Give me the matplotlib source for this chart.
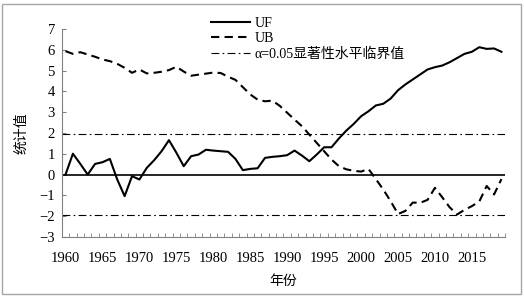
import numpy as np
import matplotlib.pyplot as plt
from matplotlib.patches import Rectangle

plt.rcParams['font.family'] = ['Liberation Serif', 'Noto Sans CJK SC']

years = np.arange(1960, 2020)

uf = [0.00, 1.00, 0.51, 0.00, 0.51, 0.59, 0.75, -0.24, -1.04, -0.08,
      -0.24, 0.32, 0.69, 1.12, 1.65, 1.05, 0.40, 0.88, 0.96, 1.19,
      1.15, 1.12, 1.09, 0.75, 0.21, 0.27, 0.30, 0.80, 0.85, 0.88,
      0.93, 1.15, 0.91, 0.64, 0.96, 1.31, 1.31, 1.73, 2.11, 2.43,
      2.80, 3.04, 3.32, 3.40, 3.65, 4.05, 4.33, 4.57, 4.81, 5.05,
      5.16, 5.24, 5.40, 5.60, 5.80, 5.90, 6.12, 6.04, 6.06, 5.90]

ub = [5.93, 5.80, 5.88, 5.77, 5.66, 5.53, 5.45, 5.32, 5.13, 4.89,
      5.05, 4.86, 4.89, 4.94, 5.02, 5.18, 4.95, 4.75, 4.80, 4.85,
      4.90, 4.88, 4.70, 4.55, 4.20, 3.85, 3.60, 3.52, 3.55, 3.30,
      2.97, 2.64, 2.32, 1.92, 1.52, 1.12, 0.72, 0.40, 0.25, 0.18,
      0.14, 0.27, -0.22, -0.72, -1.28, -1.90, -1.75, -1.35, -1.36, -1.22,
      -0.64, -1.10, -1.58, -1.92, -1.70, -1.52, -1.30, -0.55, -0.96, -0.22]

crit = 1.96
yticks = list(range(-3, 8))
xlabels = list(range(1960, 2020, 5))

fig = plt.figure(figsize=(5.24, 2.98), dpi=100)
ax = fig.add_axes([0.118, 0.205, 0.846, 0.698])

ax.plot(years, uf, color='black', lw=1.5, label='UF')
ax.plot(years, ub, color='black', lw=1.5, dashes=(4, 2.5), label='UB')
ax.plot([1959.5, 2019.5], [crit, crit], color='black', lw=0.8,
        dashes=(7, 3, 1.5, 3), label='α=0.05显著性水平临界值')
ax.plot([1959.5, 2019.5], [-crit, -crit], color='black', lw=0.8,
        dashes=(7, 3, 1.5, 3))
ax.axhline(0, color='black', lw=1.2)

ax.set_xlim(1959.5, 2019.5)
ax.set_ylim(-3, 7)
ax.set_yticks(yticks)
ax.set_xticks(xlabels)
ax.set_xticks(np.arange(1959.5, 2020, 1), minor=True)
ax.tick_params(axis='x', which='major', length=0, pad=11, labelsize=10.5)
ax.tick_params(axis='x', which='minor', direction='in', length=3,
               color='#808080')
ax.tick_params(axis='y', direction='in', length=3, color='#808080',
               labelsize=10.5, pad=5)

for side in ['top', 'right']:
    ax.spines[side].set_visible(False)
for side in ['left', 'bottom']:
    ax.spines[side].set_color('#808080')
    ax.spines[side].set_linewidth(0.8)

ax.set_xlabel('年份', fontsize=10, labelpad=7)
ax.set_ylabel('统计值', fontsize=10, labelpad=8)

ax.legend(loc='upper left', bbox_to_anchor=(0.385, 0.975),
          bbox_transform=fig.transFigure, frameon=False, fontsize=10,
          handlelength=2.8, handletextpad=0.3, labelspacing=0.15,
          borderpad=0.2)

fig.patches.append(Rectangle((0.004, 0.013), 0.991, 0.975,
                             transform=fig.transFigure, fill=False,
                             edgecolor='#a6a6a6', lw=1))

fig.savefig('out.png', dpi=100)
